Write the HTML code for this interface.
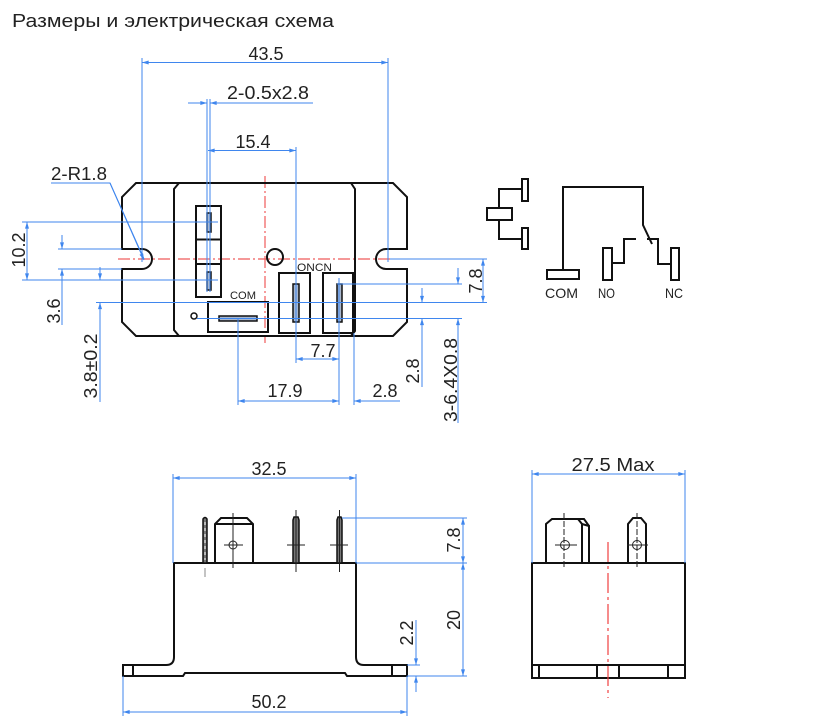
<!DOCTYPE html>
<html><head><meta charset="utf-8"><style>
html,body{margin:0;padding:0;background:#fff;}
svg{display:block;}
text{font-family:"Liberation Sans","DejaVu Sans",sans-serif;fill:#222;}
</style></head><body>
<svg width="832" height="719" viewBox="0 0 832 719" xmlns="http://www.w3.org/2000/svg">
<defs>
<marker id="a" viewBox="0 0 10 6" refX="10" refY="3" markerWidth="8" markerHeight="4" orient="auto-start-reverse" markerUnits="userSpaceOnUse"><path d="M0,0 L10,3 L0,6z" fill="#3f86ee"/></marker>
</defs>

<text x="12" y="27" font-size="18" textLength="322" lengthAdjust="spacingAndGlyphs">Размеры и электрическая схема</text>

<!-- ===== TOP VIEW ===== -->
<g stroke="#ef5b5b" stroke-width="1.2" stroke-dasharray="12,3,2,3" fill="none">
<line x1="118" y1="259" x2="392" y2="259"/>
<line x1="265" y1="176" x2="265" y2="343"/>
</g>

<g stroke="#111" stroke-width="2" fill="none" stroke-linejoin="miter">
<path d="M136,183 L393,183 L407,197 L407,249 L386,249 A10,10 0 0 0 386,269 L407,269 L407,322 L393,336 L136,336 L122,322 L122,269 L142,269 A10,10 0 0 0 142,249 L122,249 L122,197 Z"/>
<path d="M179,183 L174,189 L174,330 L179,336"/>
<path d="M351,183 L355,189 L355,331 L351,336"/>
<rect x="196" y="206" width="25" height="91"/>
<line x1="196" y1="239.5" x2="221" y2="239.5"/>
<line x1="196" y1="264" x2="221" y2="264"/>
<circle cx="275" cy="257" r="8"/>
<rect x="208" y="302" width="60" height="30"/>
<rect x="279" y="273" width="31" height="60"/>
<rect x="323" y="273" width="30" height="60"/>
</g>
<circle cx="194" cy="316" r="3" stroke="#111" stroke-width="1.5" fill="none"/>
<g stroke="#111" stroke-width="1.5" fill="#a9b8cf">
<rect x="207" y="213" width="4" height="19"/>
<rect x="207" y="272" width="4" height="18"/>
<rect x="219" y="316" width="38" height="5"/>
<rect x="293" y="284" width="6" height="38"/>
<rect x="337" y="284" width="5" height="38"/>
</g>
<text x="297" y="271" font-size="11" textLength="35" lengthAdjust="spacingAndGlyphs">ONCN</text>
<text x="230" y="299" font-size="11" textLength="26" lengthAdjust="spacingAndGlyphs">COM</text>

<!-- blue dims top -->
<g stroke="#3f86ee" stroke-width="1" fill="none">
<line x1="142" y1="58" x2="142" y2="262"/>
<line x1="388" y1="58" x2="388" y2="262"/>
<line x1="142" y1="62.5" x2="388" y2="62.5" marker-start="url(#a)" marker-end="url(#a)"/>

<line x1="207" y1="99" x2="207" y2="292"/>
<line x1="210" y1="99" x2="210" y2="292"/>
<line x1="188" y1="103" x2="207" y2="103" marker-end="url(#a)"/>
<line x1="313" y1="103" x2="210" y2="103" marker-end="url(#a)"/>

<line x1="296" y1="147" x2="296" y2="363"/>
<line x1="208" y1="150.5" x2="296" y2="150.5" marker-start="url(#a)" marker-end="url(#a)"/>

<polyline points="51,183 110,183 144,259"/>
<line x1="110" y1="183" x2="144" y2="260" marker-end="url(#a)"/>

<line x1="22" y1="222" x2="218" y2="222"/>
<line x1="22" y1="280" x2="218" y2="280"/>
<line x1="27" y1="222" x2="27" y2="280" marker-start="url(#a)" marker-end="url(#a)"/>

<line x1="58" y1="249" x2="122" y2="249"/>
<line x1="58" y1="269" x2="122" y2="269"/>
<line x1="62" y1="235" x2="62" y2="249" marker-end="url(#a)"/>
<line x1="62" y1="325" x2="62" y2="269" marker-end="url(#a)"/>

<line x1="100" y1="267" x2="100" y2="280" marker-end="url(#a)"/>
<line x1="100" y1="402" x2="100" y2="302.5" marker-end="url(#a)"/>
<line x1="96" y1="302.5" x2="487" y2="302.5"/>
<line x1="197" y1="318.5" x2="462" y2="318.5"/>
<line x1="337" y1="284" x2="462" y2="284"/>
<line x1="390" y1="259" x2="487" y2="259"/>

<line x1="483" y1="259" x2="483" y2="302.5" marker-start="url(#a)" marker-end="url(#a)"/>
<line x1="458" y1="268" x2="458" y2="284" marker-end="url(#a)"/>
<line x1="458" y1="423" x2="458" y2="318.5" marker-end="url(#a)"/>
<line x1="422" y1="288" x2="422" y2="302.5" marker-end="url(#a)"/>
<line x1="422" y1="387" x2="422" y2="318.5" marker-end="url(#a)"/>

<line x1="339" y1="278" x2="339" y2="405"/>
<line x1="238" y1="318" x2="238" y2="405"/>
<line x1="354" y1="333" x2="354" y2="405"/>
<line x1="296" y1="359" x2="339" y2="359" marker-start="url(#a)" marker-end="url(#a)"/>
<line x1="238" y1="401" x2="339" y2="401" marker-start="url(#a)" marker-end="url(#a)"/>
<line x1="400" y1="401" x2="354" y2="401" marker-end="url(#a)"/>
</g>

<g font-size="18">
<text x="266" y="60" text-anchor="middle">43.5</text>
<text x="227" y="99" textLength="82" lengthAdjust="spacingAndGlyphs">2-0.5x2.8</text>
<text x="253" y="148" text-anchor="middle">15.4</text>
<text x="51" y="180" textLength="56" lengthAdjust="spacingAndGlyphs">2-R1.8</text>
<text transform="translate(25,250) rotate(-90)" text-anchor="middle">10.2</text>
<text transform="translate(60,311) rotate(-90)" text-anchor="middle">3.6</text>
<text transform="translate(97,366) rotate(-90)" text-anchor="middle" textLength="65" lengthAdjust="spacingAndGlyphs">3.8±0.2</text>
<text x="323" y="357" text-anchor="middle">7.7</text>
<text x="285" y="397" text-anchor="middle">17.9</text>
<text x="385" y="397" text-anchor="middle">2.8</text>
<text transform="translate(419,371) rotate(-90)" text-anchor="middle">2.8</text>
<text transform="translate(482,281) rotate(-90)" text-anchor="middle">7.8</text>
<text transform="translate(457,380) rotate(-90)" text-anchor="middle" textLength="84" lengthAdjust="spacingAndGlyphs">3-6.4X0.8</text>
</g>

<!-- ===== SCHEMATIC ===== -->
<g stroke="#111" stroke-width="2" fill="none">
<rect x="487" y="208" width="25" height="12"/>
<polyline points="499,208 499,189 523,189"/>
<polyline points="499,220 499,239 523,239"/>
<rect x="522" y="179" width="6" height="22"/>
<rect x="522" y="228" width="6" height="21"/>
<polyline points="563,270 563,187 643,187 643,225 652,244"/>
<rect x="547" y="270" width="32" height="9"/>
<polyline points="612,263 624,263 624,239 636,239"/>
<rect x="603" y="248" width="9" height="32"/>
<polyline points="647,239 658,239 658,264 671,264"/>
<rect x="671" y="248" width="8" height="32"/>
</g>
<g font-size="14">
<text x="545" y="298" textLength="33" lengthAdjust="spacingAndGlyphs">COM</text>
<text x="598" y="298" textLength="17" lengthAdjust="spacingAndGlyphs">NO</text>
<text x="665" y="298" textLength="18" lengthAdjust="spacingAndGlyphs">NC</text>
</g>

<!-- ===== BOTTOM LEFT VIEW ===== -->
<g stroke="#111" stroke-width="2" fill="none">
<path d="M174,563 L356,563 L356,657 Q356,665 364,665 L407,665 L407,676 L347,676 L345,673 L185,673 L183,676 L123,676 L123,665 L166,665 Q174,665 174,657 Z"/>
<line x1="133" y1="665" x2="133" y2="676"/>
<line x1="392" y1="665" x2="392" y2="676"/>
<path d="M215,563 L215,524 L221,518 L247,518 L253,524 L253,563"/>
<line x1="215" y1="524" x2="253" y2="524"/>
</g>
<g stroke="#111" stroke-width="1.5" fill="#777">
<path d="M203,563 L203,519 Q205,516 207,519 L207,563 Z"/>
<path d="M293,563 L293,520 L294,517 L298,517 L299,520 L299,563 Z"/>
<path d="M337,563 L337,520 L338,517 L341,517 L342,520 L342,563 Z"/>
</g>
<g stroke="#fff" stroke-width="1" stroke-dasharray="3,3">
<line x1="205" y1="522" x2="205" y2="560"/>
<line x1="296" y1="524" x2="296" y2="560"/>
<line x1="339.5" y1="524" x2="339.5" y2="560"/>
</g>
<g stroke="#222" stroke-width="1" fill="none">
<circle cx="233" cy="545" r="4"/>
<line x1="233" y1="513" x2="233" y2="568"/>
<line x1="224" y1="545" x2="243" y2="545"/>
<line x1="296" y1="510" x2="296" y2="572"/>
<line x1="287" y1="545" x2="305" y2="545"/>
<line x1="339.5" y1="510" x2="339.5" y2="572"/>
<line x1="330" y1="545" x2="348" y2="545"/>
<line x1="205" y1="568" x2="205" y2="577" stroke="#888"/>
</g>
<g stroke="#3f86ee" stroke-width="1" fill="none">
<line x1="173" y1="474" x2="173" y2="563"/>
<line x1="356" y1="474" x2="356" y2="563"/>
<line x1="173" y1="478" x2="356" y2="478" marker-start="url(#a)" marker-end="url(#a)"/>
<line x1="342" y1="518" x2="467" y2="518"/>
<line x1="356" y1="563" x2="467" y2="563"/>
<line x1="407" y1="676" x2="467" y2="676"/>
<line x1="407" y1="665" x2="420" y2="665"/>
<line x1="463" y1="518" x2="463" y2="563" marker-start="url(#a)" marker-end="url(#a)"/>
<line x1="463" y1="563" x2="463" y2="676" marker-start="url(#a)" marker-end="url(#a)"/>
<line x1="416" y1="620" x2="416" y2="665" marker-end="url(#a)"/>
<line x1="416" y1="692" x2="416" y2="676" marker-end="url(#a)"/>
<line x1="123" y1="676" x2="123" y2="716"/>
<line x1="407" y1="676" x2="407" y2="716"/>
<line x1="123" y1="712" x2="407" y2="712" marker-start="url(#a)" marker-end="url(#a)"/>
</g>
<g font-size="18">
<text x="269" y="475" text-anchor="middle">32.5</text>
<text transform="translate(460,540) rotate(-90)" text-anchor="middle">7.8</text>
<text transform="translate(460,620) rotate(-90)" text-anchor="middle">20</text>
<text transform="translate(413,633) rotate(-90)" text-anchor="middle">2.2</text>
<text x="269" y="708" text-anchor="middle">50.2</text>
</g>

<!-- ===== BOTTOM RIGHT VIEW ===== -->
<g stroke="#111" stroke-width="2" fill="none">
<rect x="532" y="563" width="153" height="115"/>
<line x1="532" y1="665" x2="685" y2="665"/>
<line x1="539" y1="665" x2="539" y2="678"/>
<line x1="597" y1="665" x2="597" y2="678"/>
<line x1="619" y1="665" x2="619" y2="678"/>
<line x1="668" y1="665" x2="668" y2="678"/>
<path d="M546,563 L546,524 L552,519 L578,519 L582,524 L582,563"/>
<path d="M582,524 L589,526 L589,563"/>
<path d="M578,519 L584,519 L589,526"/>
<path d="M628,563 L628,524 L633,518 L641,518 L646,524 L646,563"/>
</g>
<g stroke="#222" stroke-width="1" fill="none">
<circle cx="565" cy="545" r="4.5"/>
<line x1="564" y1="513" x2="564" y2="568" stroke-dasharray="6,2"/>
<line x1="555" y1="545" x2="577" y2="545"/>
<circle cx="637" cy="545" r="4.5"/>
<line x1="637" y1="513" x2="637" y2="568" stroke-dasharray="6,2"/>
<line x1="627" y1="545" x2="648" y2="545"/>
</g>
<line x1="608" y1="542" x2="608" y2="698" stroke="#ef4040" stroke-width="1.2" stroke-dasharray="20,4,3,4"/>
<g stroke="#3f86ee" stroke-width="1" fill="none">
<line x1="532" y1="470" x2="532" y2="563"/>
<line x1="685" y1="470" x2="685" y2="563"/>
<line x1="532" y1="474" x2="685" y2="474" marker-start="url(#a)" marker-end="url(#a)"/>
</g>
<text x="613" y="471" font-size="18" text-anchor="middle" textLength="83" lengthAdjust="spacingAndGlyphs">27.5 Max</text>
</svg>
</body></html>
